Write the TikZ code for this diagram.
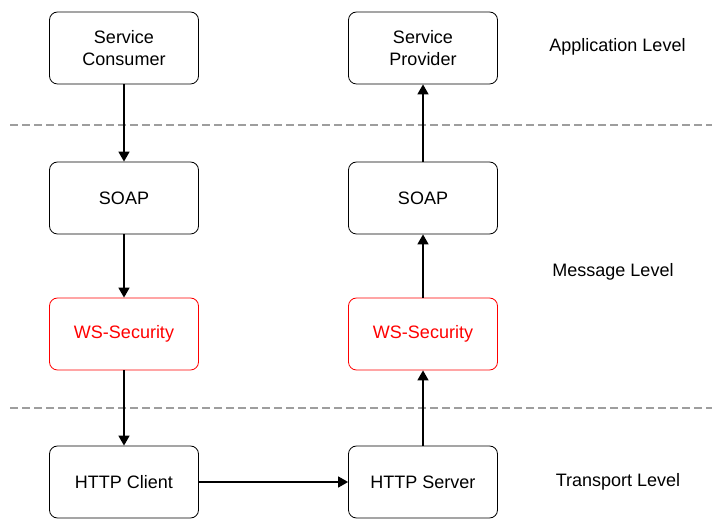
\documentclass[tikz,border=0pt]{standalone}
\usepackage{fontspec}
\setmainfont{Liberation Sans}
\usetikzlibrary{arrows.meta}
\tikzset{
  layer/.style={draw, rounded corners=8pt, minimum width=149pt, minimum height=72pt,
    align=center, line width=0.8pt, font=\fontsize{18}{22}\selectfont},
  secure/.style={layer, draw=red, text=red},
  level/.style={font=\fontsize{18}{22}\selectfont},
  sep/.style={draw=black!38, line width=1.6pt, dash pattern=on 8pt off 4pt},
  flow/.style={line width=1.6pt, -{Triangle[length=10pt,width=11pt]}},
}
\begin{document}
\begin{tikzpicture}[x=1pt,y=1pt]
  \useasboundingbox (0,0) rectangle (712,519);
  % layer boundaries
  \draw[sep] (10,394) -- (712,394);
  \draw[sep] (10,111) -- (712,111);
  \draw
    (124,471) node[layer] (consumer){Service\\Consumer}
    (124,321) node[layer] (soapc){SOAP}
    (124,185) node[secure] (wssc){WS-Security}
    (124,37) node[layer] (client){HTTP Client}
    (423,471) node[layer] (provider){Service\\Provider}
    (423,321) node[layer] (soaps){SOAP}
    (423,185) node[secure] (wsss){WS-Security}
    (423,37) node[layer] (server){HTTP Server};
  \draw
    (617.5,472) node[level] (app){Application Level}
    (613,247) node[level] (msg){Message Level}
    (618,37) node[level] (trans){Transport Level};
  \begin{scope}[flow]
    \draw (consumer) to (soapc);
    \draw (soapc) to (wssc);
    \draw (wssc) to (client);
    \draw (client) to (server);
    \draw (server) to (wsss);
    \draw (wsss) to (soaps);
    \draw (soaps) to (provider);
  \end{scope}
\end{tikzpicture}
\end{document}
